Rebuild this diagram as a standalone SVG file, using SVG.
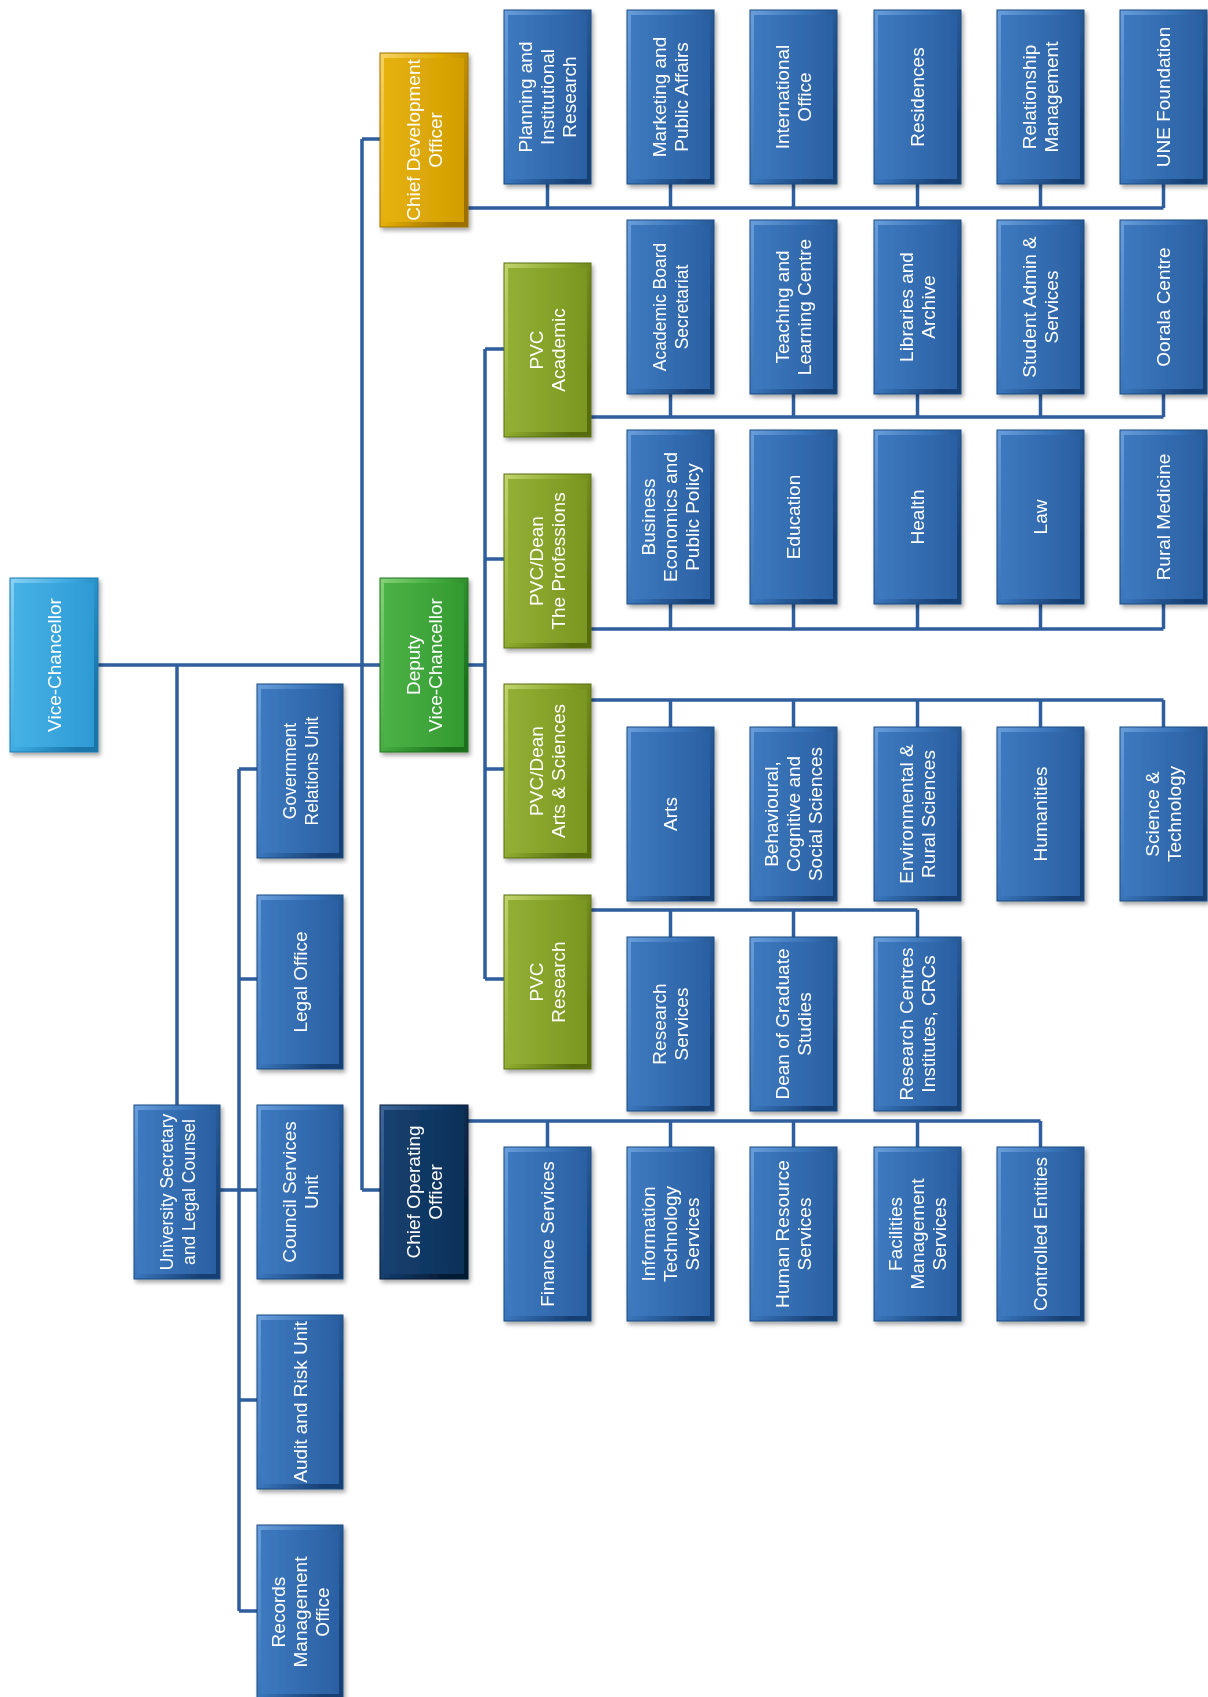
<svg xmlns="http://www.w3.org/2000/svg" width="1208" height="1697" viewBox="0 0 1208 1697">
<style>
.t{font-family:"Liberation Sans",Arial,sans-serif;font-size:19px;fill:#ffffff;text-anchor:middle}
.s17{font-size:17.5px}
.node{filter:url(#sh)}
.o{stroke-width:1}
.blue .o{fill:url(#oBlue);stroke:#1d4a82}.blue .i{fill:url(#iBlue)}
.vc .o{fill:url(#oVc);stroke:#1d7bb0}.vc .i{fill:url(#iVc)}
.dvc .o{fill:url(#oDvc);stroke:#1f7420}.dvc .i{fill:url(#iDvc)}
.pvc .o{fill:url(#oPvc);stroke:#5a7012}.pvc .i{fill:url(#iPvc)}
.cdo .o{fill:url(#oCdo);stroke:#a07400}.cdo .i{fill:url(#iCdo)}
.coo .o{fill:url(#oCoo);stroke:#061c36}.coo .i{fill:url(#iCoo)}
#connectors path{fill:none;stroke:#2f5e9e;stroke-width:3.5}
</style>
<defs>
<filter id="sh" x="-20%" y="-20%" width="140%" height="140%">
<feDropShadow dx="2" dy="3" stdDeviation="2.2" flood-color="#000" flood-opacity="0.35"/>
</filter>
<linearGradient id="oBlue" x1="0" y1="0" x2="1" y2="0.6"><stop offset="0" stop-color="#6a9fdc"/><stop offset="0.5" stop-color="#3671b6"/><stop offset="1" stop-color="#173f73"/></linearGradient>
<linearGradient id="iBlue" x1="0" y1="0" x2="1" y2="0"><stop offset="0" stop-color="#3d79bf"/><stop offset="1" stop-color="#2b60a3"/></linearGradient>
<linearGradient id="oVc" x1="0" y1="0" x2="1" y2="0.6"><stop offset="0" stop-color="#8ad2f4"/><stop offset="0.5" stop-color="#3aa9e0"/><stop offset="1" stop-color="#1a74a8"/></linearGradient>
<linearGradient id="iVc" x1="0" y1="0" x2="1" y2="0"><stop offset="0" stop-color="#45b2e6"/><stop offset="1" stop-color="#2e9ad4"/></linearGradient>
<linearGradient id="oDvc" x1="0" y1="0" x2="1" y2="0.6"><stop offset="0" stop-color="#86d378"/><stop offset="0.5" stop-color="#40a83c"/><stop offset="1" stop-color="#1c6f1c"/></linearGradient>
<linearGradient id="iDvc" x1="0" y1="0" x2="1" y2="0"><stop offset="0" stop-color="#4cb247"/><stop offset="1" stop-color="#339a30"/></linearGradient>
<linearGradient id="oPvc" x1="0" y1="0" x2="1" y2="0.6"><stop offset="0" stop-color="#c2d56e"/><stop offset="0.5" stop-color="#8aa72c"/><stop offset="1" stop-color="#566c10"/></linearGradient>
<linearGradient id="iPvc" x1="0" y1="0" x2="1" y2="0"><stop offset="0" stop-color="#93af34"/><stop offset="1" stop-color="#7a9620"/></linearGradient>
<linearGradient id="oCdo" x1="0" y1="0" x2="1" y2="0.6"><stop offset="0" stop-color="#f7d464"/><stop offset="0.5" stop-color="#e0ab05"/><stop offset="1" stop-color="#9c7000"/></linearGradient>
<linearGradient id="iCdo" x1="0" y1="0" x2="1" y2="0"><stop offset="0" stop-color="#e6b210"/><stop offset="1" stop-color="#d29e00"/></linearGradient>
<linearGradient id="oCoo" x1="0" y1="0" x2="1" y2="0.6"><stop offset="0" stop-color="#3f689a"/><stop offset="0.5" stop-color="#123b69"/><stop offset="1" stop-color="#051a33"/></linearGradient>
<linearGradient id="iCoo" x1="0" y1="0" x2="1" y2="0"><stop offset="0" stop-color="#164170"/><stop offset="1" stop-color="#0c3058"/></linearGradient>
</defs>
<rect width="1208" height="1697" fill="#ffffff"/>

<g id="connectors">
<path d="M98 665H380M362 139V1190M362 139H380M362 1190H380"/>
<path d="M177 665V1105M220 1190H257M239 769V1611M239 769H257M239 979H257M239 1400H257M239 1611H257"/>
<path d="M468 665H485M485 349V979M485 349H504M485 559H504M485 769H504M485 979H504"/>
<path d="M468 208H1163.5M547.5 184V208M670.5 184V208M793.5 184V208M917.5 184V208M1040.5 184V208M1163.5 184V208"/>
<path d="M591 417H1163.5M670.5 394V417M793.5 394V417M917.5 394V417M1040.5 394V417M1163.5 394V417"/>
<path d="M591 629H1163.5M670.5 604V629M793.5 604V629M917.5 604V629M1040.5 604V629M1163.5 604V629"/>
<path d="M591 700H1163.5M670.5 700V727M793.5 700V727M917.5 700V727M1040.5 700V727M1163.5 700V727"/>
<path d="M591 910H917.5M670.5 910V937M793.5 910V937M917.5 910V937"/>
<path d="M468 1121H1040.5M547.5 1121V1147M670.5 1121V1147M793.5 1121V1147M917.5 1121V1147M1040.5 1121V1147"/>
</g>

<!-- left / middle -->
<g id="vice-chancellor" class="node vc"><rect class="o" x="10" y="578" width="88" height="174"/><rect class="i" x="14" y="583" width="80" height="164"/><text class="t" transform="translate(54 665) rotate(-90)"><tspan x="0" y="6.7">Vice-Chancellor</tspan></text></g>
<g id="university-secretary" class="node blue"><rect class="o" x="134" y="1105" width="86" height="174"/><rect class="i" x="138" y="1110" width="78" height="164"/><text class="t s17" transform="translate(177 1192) rotate(-90)"><tspan x="0" y="-4.3">University Secretary</tspan><tspan x="0" y="17.7">and Legal Counsel</tspan></text></g>
<g id="government-relations" class="node blue"><rect class="o" x="257" y="684" width="86" height="174"/><rect class="i" x="261" y="689" width="78" height="164"/><text class="t s17" transform="translate(300 771) rotate(-90)"><tspan x="0" y="-4.3">Government</tspan><tspan x="0" y="17.7">Relations Unit</tspan></text></g>
<g id="legal-office" class="node blue"><rect class="o" x="257" y="895" width="86" height="174"/><rect class="i" x="261" y="900" width="78" height="164"/><text class="t" transform="translate(300 982) rotate(-90)"><tspan x="0" y="6.7">Legal Office</tspan></text></g>
<g id="council-services" class="node blue"><rect class="o" x="257" y="1105" width="86" height="174"/><rect class="i" x="261" y="1110" width="78" height="164"/><text class="t" transform="translate(300 1192) rotate(-90)"><tspan x="0" y="-4.3">Council Services</tspan><tspan x="0" y="17.7">Unit</tspan></text></g>
<g id="audit-risk" class="node blue"><rect class="o" x="257" y="1315" width="86" height="174"/><rect class="i" x="261" y="1320" width="78" height="164"/><text class="t" transform="translate(300 1402) rotate(-90)"><tspan x="0" y="6.7">Audit and Risk Unit</tspan></text></g>
<g id="records-management" class="node blue"><rect class="o" x="257" y="1525" width="86" height="174"/><rect class="i" x="261" y="1530" width="78" height="164"/><text class="t" transform="translate(300 1612) rotate(-90)"><tspan x="0" y="-15.3">Records</tspan><tspan x="0" y="6.7">Management</tspan><tspan x="0" y="28.7">Office</tspan></text></g>

<g id="chief-development-officer" class="node cdo"><rect class="o" x="380" y="53" width="88" height="174"/><rect class="i" x="384" y="58" width="80" height="164"/><text class="t" transform="translate(424 140) rotate(-90)"><tspan x="0" y="-4.3">Chief Development</tspan><tspan x="0" y="17.7">Officer</tspan></text></g>
<g id="deputy-vice-chancellor" class="node dvc"><rect class="o" x="380" y="578" width="88" height="174"/><rect class="i" x="384" y="583" width="80" height="164"/><text class="t" transform="translate(424 665) rotate(-90)"><tspan x="0" y="-4.3">Deputy</tspan><tspan x="0" y="17.7">Vice-Chancellor</tspan></text></g>
<g id="chief-operating-officer" class="node coo"><rect class="o" x="380" y="1105" width="88" height="174"/><rect class="i" x="384" y="1110" width="80" height="164"/><text class="t" transform="translate(424 1192) rotate(-90)"><tspan x="0" y="-4.3">Chief Operating</tspan><tspan x="0" y="17.7">Officer</tspan></text></g>

<g id="pvc-academic" class="node pvc"><rect class="o" x="504" y="263" width="87" height="174"/><rect class="i" x="508" y="268" width="79" height="164"/><text class="t" transform="translate(547.5 350) rotate(-90)"><tspan x="0" y="-4.3">PVC</tspan><tspan x="0" y="17.7">Academic</tspan></text></g>
<g id="pvc-professions" class="node pvc"><rect class="o" x="504" y="474" width="87" height="174"/><rect class="i" x="508" y="479" width="79" height="164"/><text class="t" transform="translate(547.5 561) rotate(-90)"><tspan x="0" y="-4.3">PVC/Dean</tspan><tspan x="0" y="17.7">The Professions</tspan></text></g>
<g id="pvc-arts-sciences" class="node pvc"><rect class="o" x="504" y="684" width="87" height="174"/><rect class="i" x="508" y="689" width="79" height="164"/><text class="t" transform="translate(547.5 771) rotate(-90)"><tspan x="0" y="-4.3">PVC/Dean</tspan><tspan x="0" y="17.7">Arts &amp; Sciences</tspan></text></g>
<g id="pvc-research" class="node pvc"><rect class="o" x="504" y="895" width="87" height="174"/><rect class="i" x="508" y="900" width="79" height="164"/><text class="t" transform="translate(547.5 982) rotate(-90)"><tspan x="0" y="-4.3">PVC</tspan><tspan x="0" y="17.7">Research</tspan></text></g>

<!-- row 1 -->
<g id="planning" class="node blue"><rect class="o" x="504" y="10" width="87" height="174"/><rect class="i" x="508" y="15" width="79" height="164"/><text class="t" transform="translate(547.5 97) rotate(-90)"><tspan x="0" y="-15.3">Planning and</tspan><tspan x="0" y="6.7">Institutional</tspan><tspan x="0" y="28.7">Research</tspan></text></g>
<g id="marketing" class="node blue"><rect class="o" x="627" y="10" width="87" height="174"/><rect class="i" x="631" y="15" width="79" height="164"/><text class="t" transform="translate(670.5 97) rotate(-90)"><tspan x="0" y="-4.3">Marketing and</tspan><tspan x="0" y="17.7">Public Affairs</tspan></text></g>
<g id="international" class="node blue"><rect class="o" x="750" y="10" width="87" height="174"/><rect class="i" x="754" y="15" width="79" height="164"/><text class="t" transform="translate(793.5 97) rotate(-90)"><tspan x="0" y="-4.3">International</tspan><tspan x="0" y="17.7">Office</tspan></text></g>
<g id="residences" class="node blue"><rect class="o" x="874" y="10" width="87" height="174"/><rect class="i" x="878" y="15" width="79" height="164"/><text class="t" transform="translate(917.5 97) rotate(-90)"><tspan x="0" y="6.7">Residences</tspan></text></g>
<g id="relationship" class="node blue"><rect class="o" x="997" y="10" width="87" height="174"/><rect class="i" x="1001" y="15" width="79" height="164"/><text class="t" transform="translate(1040.5 97) rotate(-90)"><tspan x="0" y="-4.3">Relationship</tspan><tspan x="0" y="17.7">Management</tspan></text></g>
<g id="une-foundation" class="node blue"><rect class="o" x="1120" y="10" width="87" height="174"/><rect class="i" x="1124" y="15" width="79" height="164"/><text class="t" transform="translate(1163.5 97) rotate(-90)"><tspan x="0" y="6.7">UNE Foundation</tspan></text></g>

<!-- row 2 -->
<g id="academic-board" class="node blue"><rect class="o" x="627" y="220" width="87" height="174"/><rect class="i" x="631" y="225" width="79" height="164"/><text class="t s17" transform="translate(670.5 307) rotate(-90)"><tspan x="0" y="-4.3">Academic Board</tspan><tspan x="0" y="17.7">Secretariat</tspan></text></g>
<g id="teaching-learning" class="node blue"><rect class="o" x="750" y="220" width="87" height="174"/><rect class="i" x="754" y="225" width="79" height="164"/><text class="t" transform="translate(793.5 307) rotate(-90)"><tspan x="0" y="-4.3">Teaching and</tspan><tspan x="0" y="17.7">Learning Centre</tspan></text></g>
<g id="libraries" class="node blue"><rect class="o" x="874" y="220" width="87" height="174"/><rect class="i" x="878" y="225" width="79" height="164"/><text class="t" transform="translate(917.5 307) rotate(-90)"><tspan x="0" y="-4.3">Libraries and</tspan><tspan x="0" y="17.7">Archive</tspan></text></g>
<g id="student-admin" class="node blue"><rect class="o" x="997" y="220" width="87" height="174"/><rect class="i" x="1001" y="225" width="79" height="164"/><text class="t" transform="translate(1040.5 307) rotate(-90)"><tspan x="0" y="-4.3">Student Admin &amp;</tspan><tspan x="0" y="17.7">Services</tspan></text></g>
<g id="oorala" class="node blue"><rect class="o" x="1120" y="220" width="87" height="174"/><rect class="i" x="1124" y="225" width="79" height="164"/><text class="t" transform="translate(1163.5 307) rotate(-90)"><tspan x="0" y="6.7">Oorala Centre</tspan></text></g>

<!-- row 3 -->
<g id="business" class="node blue"><rect class="o" x="627" y="430" width="87" height="174"/><rect class="i" x="631" y="435" width="79" height="164"/><text class="t" transform="translate(670.5 517) rotate(-90)"><tspan x="0" y="-15.3">Business</tspan><tspan x="0" y="6.7">Economics and</tspan><tspan x="0" y="28.7">Public Policy</tspan></text></g>
<g id="education" class="node blue"><rect class="o" x="750" y="430" width="87" height="174"/><rect class="i" x="754" y="435" width="79" height="164"/><text class="t" transform="translate(793.5 517) rotate(-90)"><tspan x="0" y="6.7">Education</tspan></text></g>
<g id="health" class="node blue"><rect class="o" x="874" y="430" width="87" height="174"/><rect class="i" x="878" y="435" width="79" height="164"/><text class="t" transform="translate(917.5 517) rotate(-90)"><tspan x="0" y="6.7">Health</tspan></text></g>
<g id="law" class="node blue"><rect class="o" x="997" y="430" width="87" height="174"/><rect class="i" x="1001" y="435" width="79" height="164"/><text class="t" transform="translate(1040.5 517) rotate(-90)"><tspan x="0" y="6.7">Law</tspan></text></g>
<g id="rural-medicine" class="node blue"><rect class="o" x="1120" y="430" width="87" height="174"/><rect class="i" x="1124" y="435" width="79" height="164"/><text class="t" transform="translate(1163.5 517) rotate(-90)"><tspan x="0" y="6.7">Rural Medicine</tspan></text></g>

<!-- row 4 -->
<g id="arts" class="node blue"><rect class="o" x="627" y="727" width="87" height="174"/><rect class="i" x="631" y="732" width="79" height="164"/><text class="t" transform="translate(670.5 814) rotate(-90)"><tspan x="0" y="6.7">Arts</tspan></text></g>
<g id="behavioural" class="node blue"><rect class="o" x="750" y="727" width="87" height="174"/><rect class="i" x="754" y="732" width="79" height="164"/><text class="t" transform="translate(793.5 814) rotate(-90)"><tspan x="0" y="-15.3">Behavioural,</tspan><tspan x="0" y="6.7">Cognitive and</tspan><tspan x="0" y="28.7">Social Sciences</tspan></text></g>
<g id="environmental" class="node blue"><rect class="o" x="874" y="727" width="87" height="174"/><rect class="i" x="878" y="732" width="79" height="164"/><text class="t" transform="translate(917.5 814) rotate(-90)"><tspan x="0" y="-4.3">Environmental &amp;</tspan><tspan x="0" y="17.7">Rural Sciences</tspan></text></g>
<g id="humanities" class="node blue"><rect class="o" x="997" y="727" width="87" height="174"/><rect class="i" x="1001" y="732" width="79" height="164"/><text class="t" transform="translate(1040.5 814) rotate(-90)"><tspan x="0" y="6.7">Humanities</tspan></text></g>
<g id="science-technology" class="node blue"><rect class="o" x="1120" y="727" width="87" height="174"/><rect class="i" x="1124" y="732" width="79" height="164"/><text class="t" transform="translate(1163.5 814) rotate(-90)"><tspan x="0" y="-4.3">Science &amp;</tspan><tspan x="0" y="17.7">Technology</tspan></text></g>

<!-- row 5 -->
<g id="research-services" class="node blue"><rect class="o" x="627" y="937" width="87" height="174"/><rect class="i" x="631" y="942" width="79" height="164"/><text class="t" transform="translate(670.5 1024) rotate(-90)"><tspan x="0" y="-4.3">Research</tspan><tspan x="0" y="17.7">Services</tspan></text></g>
<g id="graduate-studies" class="node blue"><rect class="o" x="750" y="937" width="87" height="174"/><rect class="i" x="754" y="942" width="79" height="164"/><text class="t" transform="translate(793.5 1024) rotate(-90)"><tspan x="0" y="-4.3">Dean of Graduate</tspan><tspan x="0" y="17.7">Studies</tspan></text></g>
<g id="research-centres" class="node blue"><rect class="o" x="874" y="937" width="87" height="174"/><rect class="i" x="878" y="942" width="79" height="164"/><text class="t" transform="translate(917.5 1024) rotate(-90)"><tspan x="0" y="-4.3">Research Centres</tspan><tspan x="0" y="17.7">Institutes, CRCs</tspan></text></g>

<!-- row 6 -->
<g id="finance" class="node blue"><rect class="o" x="504" y="1147" width="87" height="174"/><rect class="i" x="508" y="1152" width="79" height="164"/><text class="t" transform="translate(547.5 1234) rotate(-90)"><tspan x="0" y="6.7">Finance Services</tspan></text></g>
<g id="information-technology" class="node blue"><rect class="o" x="627" y="1147" width="87" height="174"/><rect class="i" x="631" y="1152" width="79" height="164"/><text class="t" transform="translate(670.5 1234) rotate(-90)"><tspan x="0" y="-15.3">Information</tspan><tspan x="0" y="6.7">Technology</tspan><tspan x="0" y="28.7">Services</tspan></text></g>
<g id="human-resource" class="node blue"><rect class="o" x="750" y="1147" width="87" height="174"/><rect class="i" x="754" y="1152" width="79" height="164"/><text class="t" transform="translate(793.5 1234) rotate(-90)"><tspan x="0" y="-4.3">Human Resource</tspan><tspan x="0" y="17.7">Services</tspan></text></g>
<g id="facilities" class="node blue"><rect class="o" x="874" y="1147" width="87" height="174"/><rect class="i" x="878" y="1152" width="79" height="164"/><text class="t" transform="translate(917.5 1234) rotate(-90)"><tspan x="0" y="-15.3">Facilities</tspan><tspan x="0" y="6.7">Management</tspan><tspan x="0" y="28.7">Services</tspan></text></g>
<g id="controlled-entities" class="node blue"><rect class="o" x="997" y="1147" width="87" height="174"/><rect class="i" x="1001" y="1152" width="79" height="164"/><text class="t" transform="translate(1040.5 1234) rotate(-90)"><tspan x="0" y="6.7">Controlled Entities</tspan></text></g>
</svg>
